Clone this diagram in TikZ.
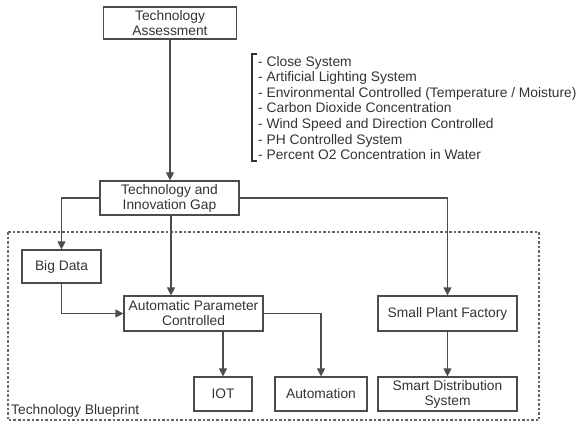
\documentclass[tikz,border=0pt]{standalone}
\usepackage{fontspec}
\setmainfont{Liberation Sans}
\usetikzlibrary{positioning, calc, arrows.meta}
\definecolor{darkgray}{rgb}{0.2, 0.2, 0.2}
\definecolor{linegray}{rgb}{0.3, 0.3, 0.3}
\definecolor{dotgray}{rgb}{0.4, 0.4, 0.4}

\begin{document}
\begin{tikzpicture}[x=1pt, y=-1pt]
    % Stili per i blocchi e le frecce
    \tikzset{
        block/.style={
            draw=linegray, % Bordo
            text=darkgray,
            line width=1.2pt,
            minimum width=139pt, % Larghezza minima
            minimum height=34pt, % Altezza minima
            align=center, % Testo centrato
            font=\fontsize{13.8}{15}\selectfont,
            inner sep=0.1em
        },
        link/.style={
            draw=linegray,
            line width=1.2pt,
            -{Triangle[length=8pt, width=8pt]}
        },
        blueprint/.style={
            draw=dotgray,
            line width=1.1pt,
            dash pattern=on 2.5pt off 2pt
        }
    }
    \useasboundingbox (0,0) rectangle (583,422);

    % Area del blueprint
    \draw[blueprint] (8,232) rectangle (539,420);
    \node[anchor=west, inner sep=0pt, text=darkgray, font=\fontsize{13.8}{15}\selectfont] (blueprint_label) at (11,411) {Technology Blueprint};

    % Blocchi in alto
    \node[block] (gap) at (169.5,198) {Technology and\\Innovation Gap};
    \node[block, minimum width=133pt, minimum height=32pt] (assessment) at (170,23) {Technology\\Assessment};

    % Elenco dei parametri
    \node[anchor=west, align=left, inner sep=0pt, text=darkgray, font=\fontsize{13.8}{15.6}\selectfont] (param_list) at (258,108) {- Close System\\- Artificial Lighting System\\- Environmental Controlled (Temperature / Moisture)\\- Carbon Dioxide Concentration\\- Wind Speed and Direction Controlled\\- PH Controlled System\\- Percent O2 Concentration in Water};
    \draw[draw=darkgray, line width=1.4pt] (257,54) -- (252,54) -- (252,161) -- (257,161);

    % Blocchi del blueprint
    \node[block, minimum width=79pt, minimum height=33pt] (big_data) at (61.5,266.5) {Big Data};
    \node[block, minimum height=35pt] (apc) at (193.5,313.5) {Automatic Parameter\\Controlled};
    \node[block, minimum height=35pt] (plant_factory) at (447.5,313.5) {Small Plant Factory};
    \node[block, minimum width=58pt] (iot) at (223,394) {IOT};
    \node[block, minimum width=92pt] (automation) at (321,394) {Automation};
    \node[block] (distribution) at (447.5,394) {Smart Distribution\\System};

    % Frecce
    \draw[link] (assessment.south) -- (assessment.south |- gap.north);
    \draw[link] (gap.west) -| (big_data.north);
    \draw[link] ([xshift=1.5pt]gap.south) -- ([xshift=1.5pt]gap.south |- apc.north);
    \draw[link] (gap.east) -| (plant_factory.north);
    \draw[link] (big_data.south) |- (apc.west);
    \draw[link] (apc.east) -| (automation.north);
    \draw[link] (iot.north |- apc.south) -- (iot.north);
    \draw[link] (plant_factory.south) -- (distribution.north);

\end{tikzpicture}
\end{document}
